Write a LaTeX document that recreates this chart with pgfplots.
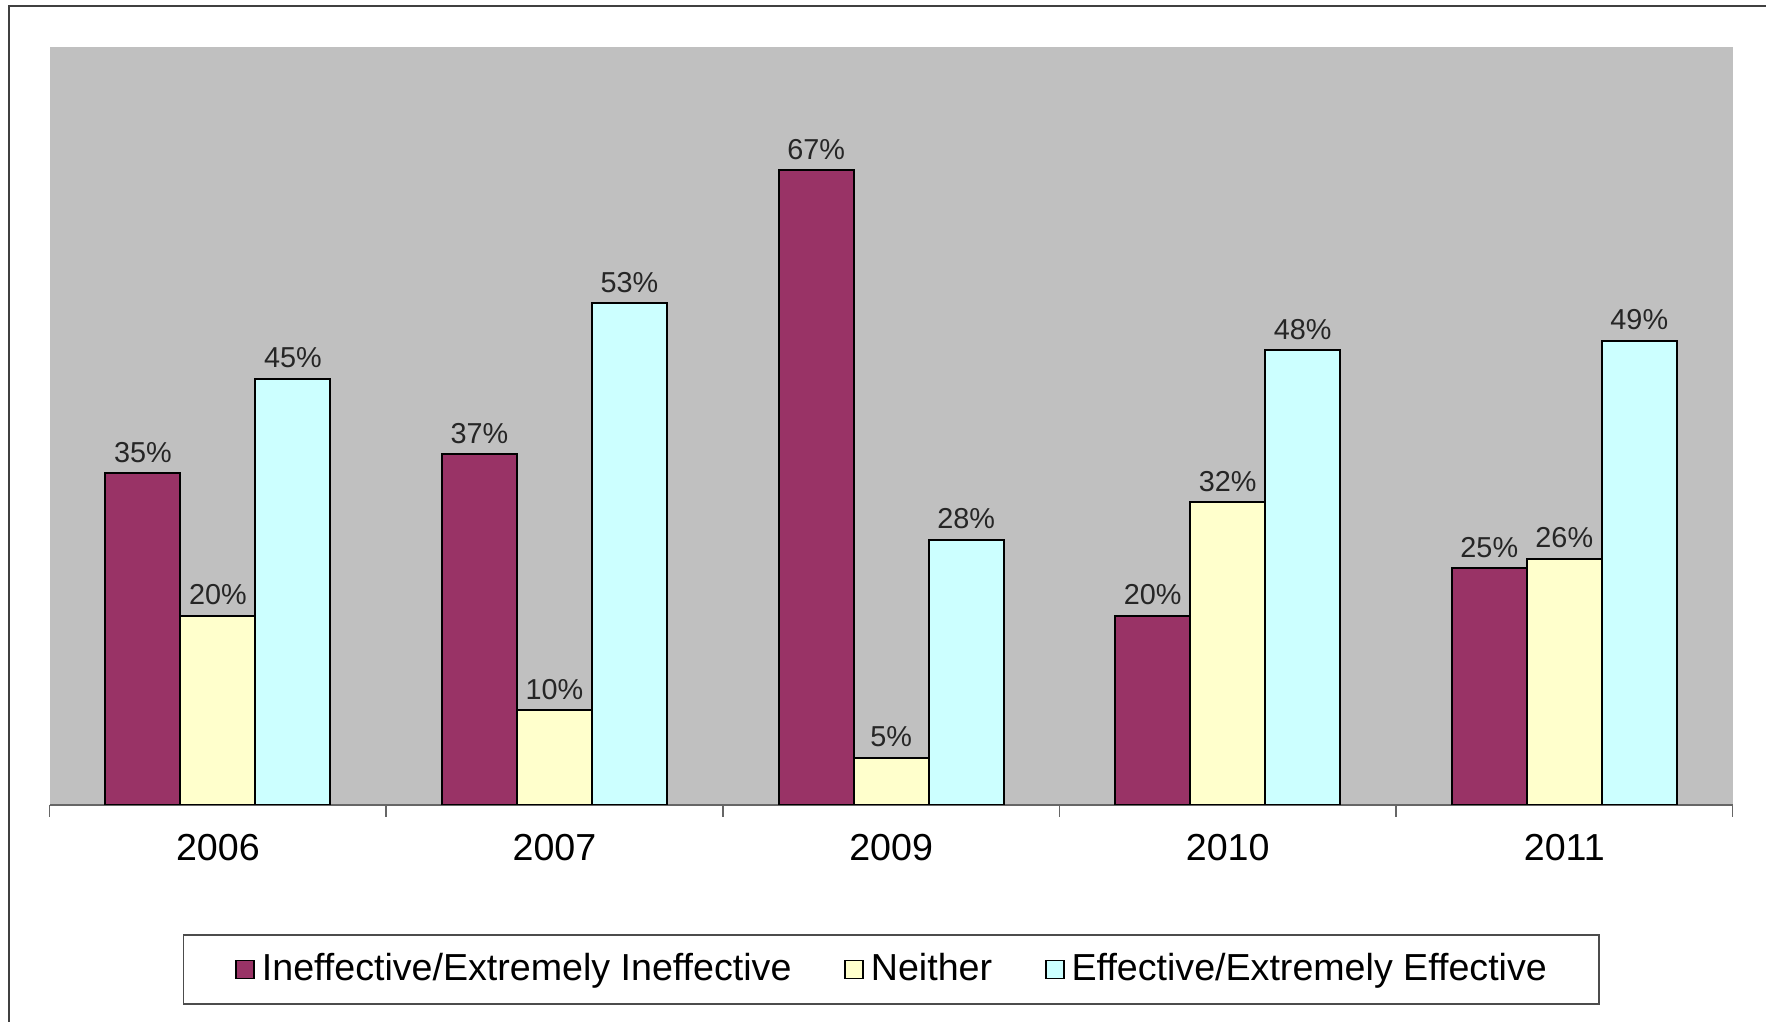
\documentclass[border=0pt]{standalone}
\usepackage{pgfplots}
\pgfplotsset{compat=1.18}
\usepackage{fontspec}
\setmainfont{Liberation Sans}

\definecolor{ineff}{HTML}{993366}
\definecolor{neither}{HTML}{FFFFCC}
\definecolor{eff}{HTML}{CCFFFF}
\definecolor{plotbg}{HTML}{C0C0C0}

\begin{document}
\begin{tikzpicture}[x=1mm,y=1mm]
\path[use as bounding box] (0,0) rectangle (176.6,102.2);
% outer chart frame
\draw[line width=0.2mm, color=black!75] (0.95,0) -- (0.95,101.6) -- (176.6,101.6);
\begin{axis}[
  at={(4.96mm,21.7mm)}, anchor=south west,
  scale only axis, width=168.3mm, height=75.8mm,
  axis background/.style={fill=plotbg},
  ybar=0pt, bar width=7.5mm,
  ymin=0, ymax=80, xmin=-0.5, xmax=4.5,
  axis y line=none, axis x line*=bottom,
  x axis line style={color=black!60, line width=0.18mm},
  xtick={0,...,4},
  xticklabels={2006,2007,2009,2010,2011},
  minor xtick={-0.5,0.5,...,4.5},
  major tick length=0pt, minor tick length=1.2mm,
  tick align=outside,
  minor tick style={color=black!60, line width=0.15mm},
  xticklabel style={font=\fontsize{10.7}{12}\selectfont, yshift=-1.7mm},
  /pgf/number format/assume math mode=true,
  nodes near coords={\pgfmathprintnumber{\pgfplotspointmeta}\%},
  every node near coord/.append style={font=\fontsize{8.2}{9}\selectfont, color=black!85, inner sep=0.95mm},
  legend columns=3,
  legend style={at={(0.5,-0.217)}, anchor=center, draw=black!70, line width=0.15mm,
    font=\fontsize{10.7}{12}\selectfont, inner xsep=5.2mm, inner ysep=1.1mm,
    nodes={inner xsep=0pt},
    /tikz/every odd column/.append style={column sep=0.7mm},
    /tikz/every even column/.append style={column sep=5.3mm}},
  legend image code/.code={\draw[#1, line width=0.15mm] (0mm,-0.9mm) rectangle (1.8mm,0.9mm);},
  every axis plot/.append style={draw=black, line width=0.2mm},
]
\addplot[fill=ineff] coordinates {(0,35) (1,37) (2,67) (3,20) (4,25)};
\addplot[fill=neither] coordinates {(0,20) (1,10) (2,5) (3,32) (4,26)};
\addplot[fill=eff] coordinates {(0,45) (1,53) (2,28) (3,48) (4,49)};
\legend{Ineffective/Extremely Ineffective, Neither, Effective/Extremely Effective}
\end{axis}
\end{tikzpicture}
\end{document}
